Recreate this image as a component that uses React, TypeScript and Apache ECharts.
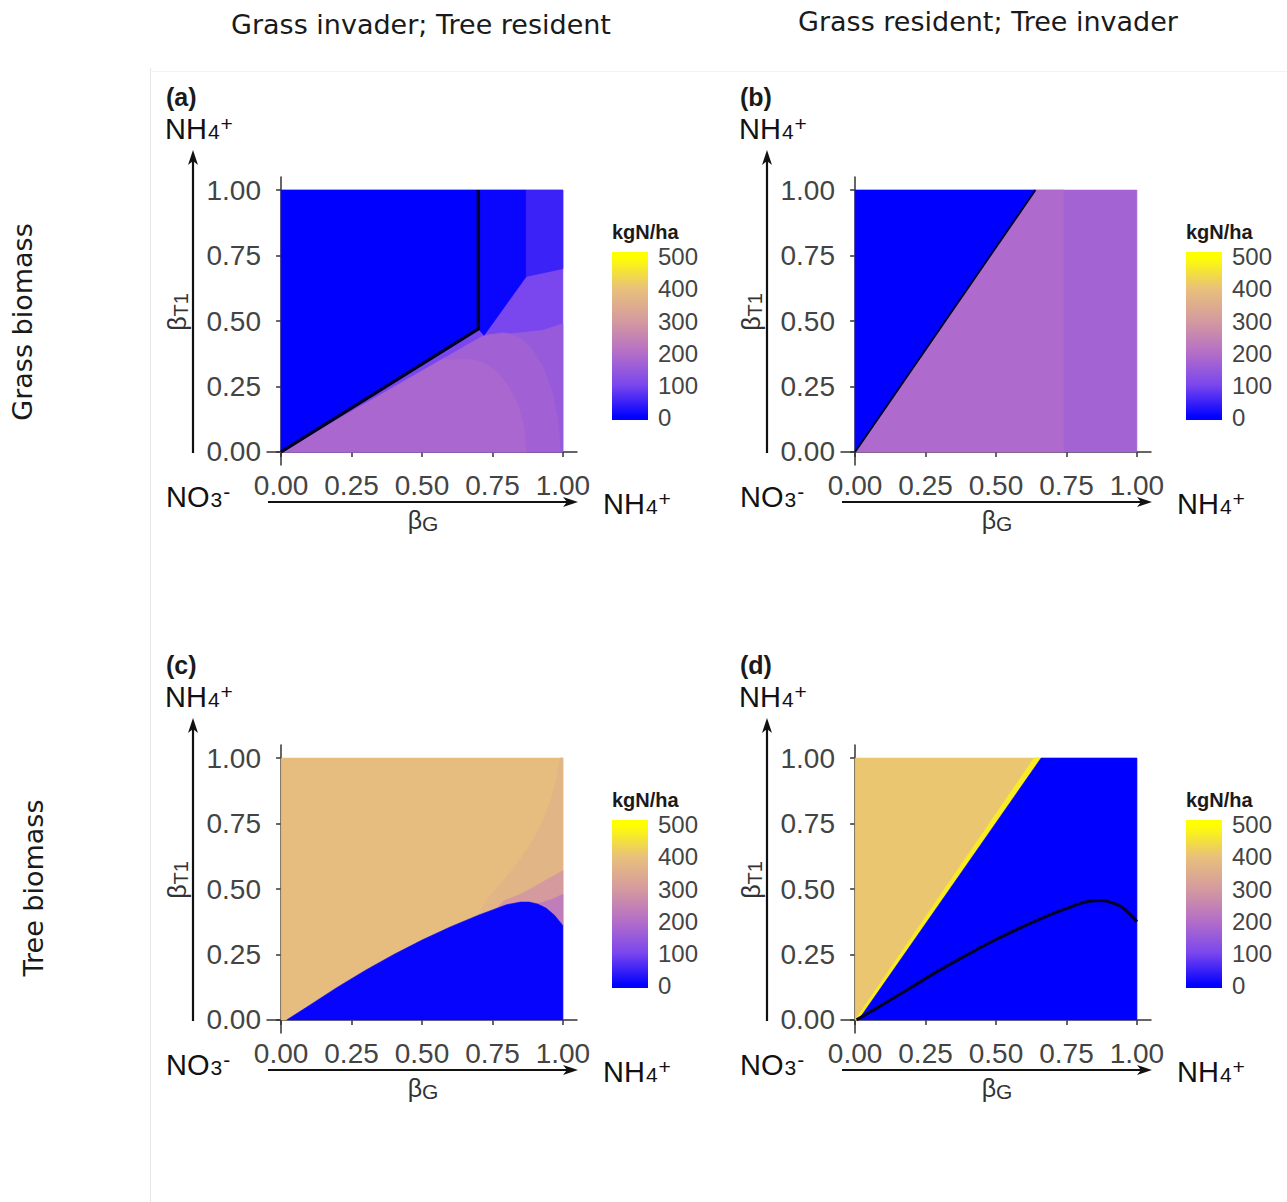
import React, { useEffect, useRef } from "react";
import * as echarts from "echarts";

// ---------- data ----------
const TICKS = [0, 0.25, 0.5, 0.75, 1];
const BAR_TICKS = [0, 100, 200, 300, 400, 500];
const BAR_LIMITS = [-8, 515];
const COLOR_STOPS: [number, string][] = [
  [0, "#0000ff"],
  [100, "#7a46ee"],
  [200, "#b46ec8"],
  [300, "#d49a9e"],
  [400, "#e8c07c"],
  [500, "#ffff00"],
];

const COL_TITLES = ["Grass invader; Tree resident", "Grass resident; Tree invader"];
const ROW_TITLES = ["Grass biomass", "Tree biomass"];
const PANEL_TAGS = ["(a)", "(b)", "(c)", "(d)"];
const BAR_TITLE = "kgN/ha";

const FULL = [[0, 0], [0, 1], [1, 1], [1, 0]];

// panel (a): grass biomass, grass invader
const A_REGIONS = [
  { value: 100, points: FULL },
  { value: 150, points: [[0, 0], [0.72, 0.445], [0.85, 0.455], [0.93, 0.465], [1, 0.49], [1, 0]] },
  { value: 168, points: [[0, 0], [0.72, 0.445], [0.79, 0.455], [0.842, 0.44], [0.89, 0.394], [0.931, 0.322], [0.963, 0.228], [0.983, 0.118], [0.99, 0]] },
  { value: 182, points: [[0, 0], [0.57, 0.352], [0.66, 0.355], [0.714, 0.343], [0.765, 0.307], [0.808, 0.251], [0.842, 0.178], [0.863, 0.092], [0.87, 0]] },
  { value: 8, points: [[0.7, 0.47], [0.7, 1], [0.87, 1], [0.87, 0.67], [0.72, 0.445]] },
  { value: 48, points: [[0.87, 0.67], [0.87, 1], [1, 1], [1, 0.7]] },
  { value: 0, points: [[0, 0], [0, 1], [0.7, 1], [0.7, 0.47]] },
];
const A_CONTOUR = [[0, 0], [0.7, 0.47], [0.7, 1]];

// panel (b): grass biomass, tree invader
const B_REGIONS = [
  { value: 172, points: FULL },
  { value: 190, points: [[0, 0], [0.64, 1], [0.74, 1], [0.74, 0]] },
  { value: 0, points: [[0, 0], [0, 1], [0.64, 1]] },
];
const B_CONTOUR = [[0, 0], [0.64, 1]];

// panel (c): tree biomass, grass invader
const C_EDGE = [[0.02, 0], [0.1, 0.055], [0.2, 0.125], [0.3, 0.19], [0.4, 0.25], [0.5, 0.305], [0.6, 0.355], [0.7, 0.4], [0.75, 0.42], [0.8, 0.44], [0.85, 0.45], [0.88, 0.45], [0.91, 0.443], [0.94, 0.427], [0.97, 0.4], [1, 0.36]];
const C_REGIONS = [
  { value: 392, points: FULL },
  { value: 372, points: [[0.7, 0.4], [0.73, 0.46], [0.78, 0.52], [0.84, 0.6], [0.89, 0.68], [0.93, 0.76], [0.96, 0.85], [0.98, 0.93], [0.99, 1], [1, 1], [1, 0.36]] },
  { value: 300, points: [[0.76, 0.42], [0.79, 0.455], [0.85, 0.48], [0.9, 0.51], [0.95, 0.54], [1, 0.57], [1, 0.36]] },
  { value: 235, points: [[0.9, 0.44], [0.96, 0.46], [1, 0.48], [1, 0.36]] },
  { value: 6, points: [...C_EDGE, [1, 0]] },
];

// panel (d): tree biomass, tree invader
const D_REGIONS = [
  { value: 410, points: FULL },
  { value: 470, points: [[0, 0], [0.635, 1], [0.66, 1], [0.012, 0]] },
  { value: 0, points: [[0.012, 0], [0.66, 1], [1, 1], [1, 0]] },
];
const D_CONTOUR = [[0.005, 0], [0.1, 0.06], [0.2, 0.125], [0.3, 0.19], [0.4, 0.25], [0.5, 0.307], [0.6, 0.358], [0.7, 0.405], [0.75, 0.425], [0.8, 0.445], [0.85, 0.455], [0.88, 0.455], [0.91, 0.448], [0.94, 0.435], [0.97, 0.41], [1, 0.375]];

const PANEL_REGIONS = [A_REGIONS, B_REGIONS, C_REGIONS, D_REGIONS];
const PANEL_CONTOURS = [A_CONTOUR, B_CONTOUR, null, D_CONTOUR];

// ---------- helpers ----------
function hexToRgb(h: string) {
  const n = parseInt(h.slice(1), 16);
  return [(n >> 16) & 255, (n >> 8) & 255, n & 255];
}
function valueColor(v: number) {
  const s = COLOR_STOPS;
  if (v <= s[0][0]) return s[0][1];
  if (v >= s[s.length - 1][0]) return s[s.length - 1][1];
  for (let i = 0; i < s.length - 1; i++) {
    const [v0, c0] = s[i];
    const [v1, c1] = s[i + 1];
    if (v >= v0 && v <= v1) {
      const t = (v - v0) / (v1 - v0);
      const a = hexToRgb(c0), b = hexToRgb(c1);
      const c = a.map((x, k) => Math.round(x + (b[k] - x) * t));
      return `rgb(${c[0]},${c[1]},${c[2]})`;
    }
  }
  return s[0][1];
}

const DX = 574;
const DY = 568;
const OFFS = [[0, 0], [DX, 0], [0, DY], [DX, DY]];
const AX_FONT = "'Liberation Sans', Arial, Helvetica, sans-serif";
const TITLE_FONT = "'DejaVu Sans', sans-serif";

function buildOption() {
  const grid: any[] = [];
  const xAxis: any[] = [];
  const yAxis: any[] = [];
  const series: any[] = [];
  const graphic: any[] = [];

  // main plots
  OFFS.forEach(([dx, dy], i) => {
    grid.push({ left: 267 + dx, top: 177 + dy, width: 310, height: 288 });
    const common = {
      type: "value",
      gridIndex: i,
      min: -0.05,
      max: 1.05,
      splitLine: { show: false },
      axisLine: { show: true, lineStyle: { color: "#333", width: 1.5 } },
      axisTick: { show: true, length: 5, customValues: TICKS, lineStyle: { color: "#333", width: 1.5 } },
      axisLabel: {
        customValues: TICKS,
        formatter: (v: number) => v.toFixed(2),
        fontSize: 28,
        color: "#444",
        fontFamily: AX_FONT,
        margin: 6,
      },
    };
    xAxis.push({ ...common, position: "bottom" });
    yAxis.push({ ...common, position: "left" });
  });
  // colorbars
  OFFS.forEach(([dx, dy], i) => {
    grid.push({ left: 612 + dx, top: 252 + dy, width: 36, height: 168 });
    xAxis.push({ type: "value", gridIndex: 4 + i, min: 0, max: 1, show: false });
  });
  OFFS.forEach((_, i) => {
    yAxis.push({
      type: "value",
      gridIndex: 4 + i,
      min: BAR_LIMITS[0],
      max: BAR_LIMITS[1],
      position: "right",
      splitLine: { show: false },
      axisLine: { show: false },
      axisTick: { show: true, inside: true, length: 7, customValues: BAR_TICKS, lineStyle: { color: "rgba(255,255,255,0.85)", width: 1.2 } },
      axisLabel: { customValues: BAR_TICKS, fontSize: 24, color: "#444", fontFamily: AX_FONT, margin: 10 },
    });
  });
  OFFS.forEach((_, i) => {
    yAxis.push({
      type: "value",
      gridIndex: 4 + i,
      min: BAR_LIMITS[0],
      max: BAR_LIMITS[1],
      position: "left",
      splitLine: { show: false },
      axisLine: { show: false },
      axisTick: { show: true, inside: true, length: 7, customValues: BAR_TICKS, lineStyle: { color: "rgba(255,255,255,0.85)", width: 1.2 } },
      axisLabel: { show: false },
    });
  });

  // region series
  PANEL_REGIONS.forEach((regions, i) => {
    series.push({
      type: "custom",
      coordinateSystem: "cartesian2d",
      xAxisIndex: i,
      yAxisIndex: i,
      silent: true,
      z: 1,
      data: regions.map((r, k) => [r.points[0][0], r.points[0][1], k]),
      encode: { x: 0, y: 1 },
      renderItem: (params: any, api: any) => {
        const r = regions[params.dataIndex];
        const pts = r.points.map((p) => api.coord(p));
        const c = valueColor(r.value);
        return { type: "polygon", shape: { points: pts }, style: { fill: c, stroke: c, lineWidth: 0.6 } };
      },
    });
    const contour = PANEL_CONTOURS[i];
    if (contour) {
      series.push({
        type: "line",
        xAxisIndex: i,
        yAxisIndex: i,
        data: contour,
        symbol: "none",
        silent: true,
        z: 3,
        smooth: i === 3 ? 0.4 : false,
        lineStyle: { color: "#000028", width: i === 1 ? 1.8 : i === 0 ? 3.4 : 3, join: "round" },
      });
    }
  });

  // colorbar series
  const stops = COLOR_STOPS.map(([v, c]) => ({
    offset: (v - BAR_LIMITS[0]) / (BAR_LIMITS[1] - BAR_LIMITS[0]),
    color: c,
  }));
  const barStops = [{ offset: 0, color: COLOR_STOPS[0][1] }, ...stops, { offset: 1, color: COLOR_STOPS[COLOR_STOPS.length - 1][1] }];
  OFFS.forEach((_, i) => {
    series.push({
      type: "custom",
      coordinateSystem: "cartesian2d",
      xAxisIndex: 4 + i,
      yAxisIndex: 4 + i,
      silent: true,
      z: 1,
      data: [[0, BAR_LIMITS[0]]],
      renderItem: (params: any, api: any) => {
        const p0 = api.coord([0, BAR_LIMITS[0]]);
        const p1 = api.coord([1, BAR_LIMITS[1]]);
        return {
          type: "rect",
          shape: { x: p0[0], y: p1[1], width: p1[0] - p0[0], height: p0[1] - p1[1] },
          style: { fill: { type: "linear", x: 0, y: 1, x2: 0, y2: 0, colorStops: barStops } },
        };
      },
    });
  });

  // static decoration: divider
  graphic.push({ type: "line", shape: { x1: 150.5, y1: 68, x2: 150.5, y2: 1202 }, style: { stroke: "#e6e6e6", lineWidth: 1 } });
  graphic.push({ type: "line", shape: { x1: 150, y1: 71.5, x2: 1287, y2: 71.5 }, style: { stroke: "#f3f3f3", lineWidth: 1 } });

  // column and row titles
  [[421, 24], [988, 21]].forEach(([x, y], k) => {
    graphic.push({ type: "text", x, y, style: { text: COL_TITLES[k], font: `27px ${TITLE_FONT}`, fill: "#1a1a1a", align: "center", verticalAlign: "middle" } });
  });
  [[22, 322], [33, 888]].forEach(([x, y], k) => {
    graphic.push({ type: "text", x, y, rotation: Math.PI / 2, style: { text: ROW_TITLES[k], font: `27px ${TITLE_FONT}`, fill: "#1a1a1a", align: "center", verticalAlign: "middle" } });
  });

  const ion = (main: string, sub: string, sup: string) => ({
    text: `{a|${main}}{b|${sub}}{c|${sup}}`,
    rich: {
      a: { fontSize: 29, fontFamily: AX_FONT, fill: "#111", lineHeight: 32, verticalAlign: "middle" },
      b: { fontSize: 21, fontFamily: AX_FONT, fill: "#111", lineHeight: 21, verticalAlign: "bottom", padding: [0, 1, 3, 1] },
      c: { fontSize: 21, fontFamily: AX_FONT, fill: "#111", lineHeight: 21, verticalAlign: "top", padding: [0, 0, 0, 0] },
    },
  });

  OFFS.forEach(([dx, dy], i) => {
    // panel tag
    graphic.push({ type: "text", x: 166 + dx, y: 97 + dy, style: { text: PANEL_TAGS[i], font: `bold 25px ${AX_FONT}`, fill: "#1a1a1a", align: "left", verticalAlign: "middle" } });
    // NH4+ at top of vertical arrow
    graphic.push({ type: "text", x: 165 + dx, y: 129 + dy, style: { ...ion("NH", "4", "+"), align: "left", verticalAlign: "middle" } });
    // vertical arrow
    graphic.push({ type: "line", shape: { x1: 193 + dx, y1: 453 + dy, x2: 193 + dx, y2: 160 + dy }, style: { stroke: "#111", lineWidth: 2.2 } });
    graphic.push({ type: "polygon", shape: { points: [[193 + dx, 150 + dy], [188 + dx, 165 + dy], [193 + dx, 161 + dy], [198 + dx, 165 + dy]] }, style: { fill: "#111" } });
    // beta T1 label (rotated)
    graphic.push({
      type: "text", x: 177 + dx, y: 312 + dy, rotation: Math.PI / 2,
      style: {
        text: "{b|β}{s|T1}", align: "center", verticalAlign: "middle",
        rich: {
          b: { fontSize: 25, fontFamily: AX_FONT, fill: "#333", lineHeight: 28, verticalAlign: "middle" },
          s: { fontSize: 20, fontFamily: AX_FONT, fill: "#333", lineHeight: 20, verticalAlign: "bottom" },
        },
      },
    });
    // NO3- at start of horizontal arrow
    graphic.push({ type: "text", x: 166 + dx, y: 497 + dy, style: { ...ion("NO", "3", "-"), align: "left", verticalAlign: "middle" } });
    // horizontal arrow
    graphic.push({ type: "line", shape: { x1: 268 + dx, y1: 502 + dy, x2: 568 + dx, y2: 502 + dy }, style: { stroke: "#111", lineWidth: 2.2 } });
    graphic.push({ type: "polygon", shape: { points: [[578 + dx, 502 + dy], [563 + dx, 497 + dy], [567 + dx, 502 + dy], [563 + dx, 507 + dy]] }, style: { fill: "#111" } });
    // NH4+ at end of horizontal arrow
    graphic.push({ type: "text", x: 603 + dx, y: 504 + dy, style: { ...ion("NH", "4", "+"), align: "left", verticalAlign: "middle" } });
    // beta G label
    graphic.push({
      type: "text", x: 423 + dx, y: 520 + dy,
      style: {
        text: "{b|β}{s|G}", align: "center", verticalAlign: "middle",
        rich: {
          b: { fontSize: 25, fontFamily: AX_FONT, fill: "#333", lineHeight: 28, verticalAlign: "middle" },
          s: { fontSize: 21, fontFamily: AX_FONT, fill: "#333", lineHeight: 21, verticalAlign: "bottom" },
        },
      },
    });
    // colorbar title
    graphic.push({ type: "text", x: 612 + dx, y: 232 + dy, style: { text: BAR_TITLE, font: `bold 20px ${AX_FONT}`, fill: "#1a1a1a", align: "left", verticalAlign: "middle" } });
  });

  return {
    animation: false,
    backgroundColor: "#ffffff",
    grid,
    xAxis,
    yAxis,
    series,
    graphic: { elements: graphic },
  };
}

export default function App() {
  const ref = useRef<HTMLDivElement>(null);
  useEffect(() => {
    if (!ref.current) return;
    const chart = echarts.init(ref.current, undefined, { renderer: "svg" });
    chart.setOption(buildOption() as any);
    return () => chart.dispose();
  }, []);
  return (
    <div
      ref={ref}
      style={{ position: "absolute", left: 0, top: 0, width: 1287, height: 1202, background: "#fff" }}
    />
  );
}
